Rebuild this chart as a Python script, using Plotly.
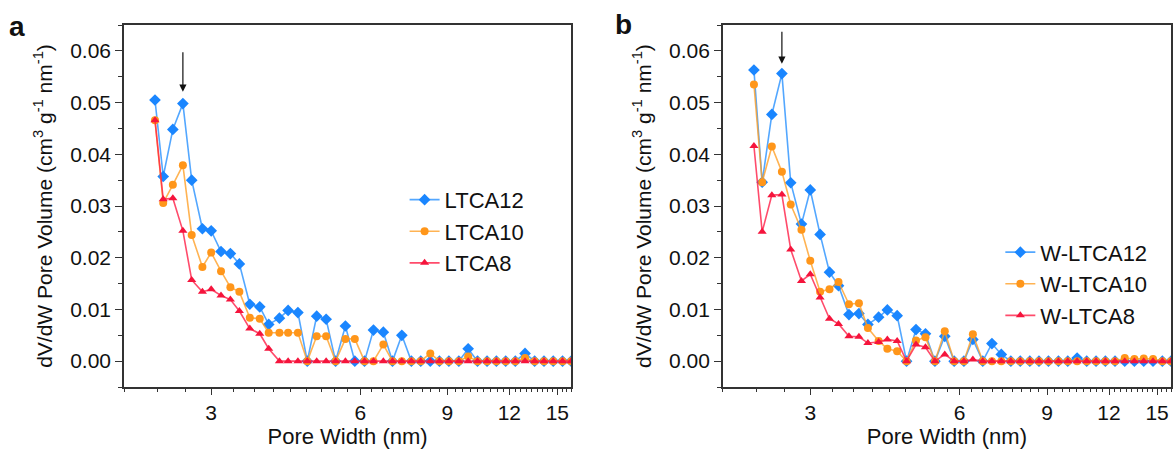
import math
import plotly.graph_objects as go

# Pore widths (nm), shared by all series
pore_width = [2.31, 2.40, 2.51, 2.63, 2.74, 2.88, 3.00, 3.14, 3.28, 3.42,
              3.59, 3.76, 3.92, 4.12, 4.29, 4.49, 4.69, 4.90, 5.12, 5.35,
              5.60, 5.85, 6.12, 6.38, 6.68, 6.97, 7.28, 7.61, 7.95, 8.31,
              8.67, 9.06, 9.49, 9.91, 10.35, 10.82, 11.30, 11.80, 12.34, 12.91,
              13.50, 14.10, 14.72, 15.37, 16.00]

# Panel a
ltca12 = [0.0505, 0.0357, 0.0448, 0.0498, 0.0350, 0.0256, 0.0252, 0.0212, 0.0208, 0.0188,
          0.0110, 0.0105, 0.0071, 0.0083, 0.0098, 0.0094, 0.0, 0.0087, 0.0081, 0.0,
          0.0068, 0.0, 0.0, 0.0060, 0.0056, 0.0, 0.0050, 0.0, 0.0, 0.0,
          0.0, 0.0, 0.0, 0.0024, 0.0, 0.0, 0.0, 0.0, 0.0, 0.0015,
          0.0, 0.0, 0.0, 0.0, 0.0]
ltca10 = [0.0466, 0.0306, 0.0341, 0.0379, 0.0244, 0.0182, 0.0210, 0.0174, 0.0143, 0.0134,
          0.0084, 0.0082, 0.0055, 0.0055, 0.0055, 0.0055, 0.0, 0.0048, 0.0048, 0.0,
          0.0043, 0.0043, 0.0, 0.0, 0.0032, 0.0, 0.0, 0.0, 0.0, 0.0015,
          0.0, 0.0, 0.0, 0.0009, 0.0, 0.0, 0.0, 0.0, 0.0, 0.0006,
          0.0, 0.0, 0.0, 0.0, 0.0]
ltca8 = [0.0466, 0.0313, 0.0315, 0.0252, 0.0157, 0.0134, 0.0139, 0.0127, 0.0119, 0.0097,
         0.0063, 0.0053, 0.0024, 0.0, 0.0, 0.0, 0.0, 0.0, 0.0, 0.0,
         0.0, 0.0, 0.0, 0.0, 0.0, 0.0, 0.0, 0.0, 0.0, 0.0,
         0.0, 0.0, 0.0, 0.0, 0.0, 0.0, 0.0, 0.0, 0.0, 0.0,
         0.0, 0.0, 0.0, 0.0, 0.0]

# Panel b
w_ltca12 = [0.0563, 0.0346, 0.0477, 0.0556, 0.0345, 0.0265, 0.0331, 0.0245, 0.0172, 0.0146,
            0.0090, 0.0092, 0.0071, 0.0085, 0.0099, 0.0088, 0.0, 0.0061, 0.0053, 0.0,
            0.0048, 0.0, 0.0, 0.0042, 0.0, 0.0034, 0.0013, 0.0, 0.0, 0.0,
            0.0, 0.0, 0.0, 0.0, 0.0006, 0.0, 0.0, 0.0, 0.0, 0.0,
            0.0, 0.0, 0.0, 0.0, 0.0]
w_ltca10 = [0.0535, 0.0346, 0.0415, 0.0366, 0.0303, 0.0254, 0.0194, 0.0134, 0.0139, 0.0153,
            0.0110, 0.0112, 0.0064, 0.0039, 0.0024, 0.0019, 0.0, 0.0040, 0.0046, 0.0,
            0.0058, 0.0, 0.0, 0.0052, 0.0, 0.0, 0.0, 0.0, 0.0, 0.0,
            0.0, 0.0, 0.0, 0.0, 0.0, 0.0, 0.0, 0.0, 0.0, 0.0006,
            0.0004, 0.0005, 0.0004, 0.0, 0.0]
w_ltca8 = [0.0416, 0.0250, 0.0321, 0.0322, 0.0216, 0.0155, 0.0168, 0.0123, 0.0082, 0.0072,
           0.0048, 0.0047, 0.0035, 0.0037, 0.0042, 0.0039, 0.0, 0.0032, 0.0027, 0.0,
           0.0013, 0.0, 0.0, 0.0003, 0.0, 0.0, 0.0, 0.0, 0.0, 0.0,
           0.0, 0.0, 0.0, 0.0, 0.0, 0.0, 0.0, 0.0, 0.0, 0.0,
           0.0, 0.0, 0.0, 0.0, 0.0]

names_a = ["LTCA12", "LTCA10", "LTCA8"]
names_b = ["W-LTCA12", "W-LTCA10", "W-LTCA8"]
x_ticks = [3, 6, 9, 12, 15]
arrow_x = 2.63

FONT = "Arial, Liberation Sans, sans-serif"
styles = [
    dict(line_color="rgba(40,145,255,0.8)", marker_color="#1a86ff", symbol="diamond", size=9),
    dict(line_color="rgba(255,160,40,0.8)", marker_color="#ff961a", symbol="circle", size=8),
    dict(line_color="rgba(255,30,70,0.8)", marker_color="#f5143c", symbol="triangle-up", size=8),
]

fig = go.Figure()
for ys, name, st in zip([ltca12, ltca10, ltca8], names_a, styles):
    fig.add_trace(go.Scatter(x=pore_width, y=ys, name=name, mode="lines+markers",
                             line=dict(color=st["line_color"], width=1.6),
                             marker=dict(color=st["marker_color"], symbol=st["symbol"], size=st["size"]),
                             xaxis="x", yaxis="y", legend="legend"))
for ys, name, st in zip([w_ltca12, w_ltca10, w_ltca8], names_b, styles):
    fig.add_trace(go.Scatter(x=pore_width, y=ys, name=name, mode="lines+markers",
                             line=dict(color=st["line_color"], width=1.6),
                             marker=dict(color=st["marker_color"], symbol=st["symbol"], size=st["size"]),
                             xaxis="x2", yaxis="y2", legend="legend2"))

minor_vals = [round(2 + k / 3, 4) for k in range(0, 43)
              if abs((2 + k / 3) % 3) > 1e-6 and abs((2 + k / 3) % 3 - 3) > 1e-6]
axis_color = "#333333"
xcommon = dict(type="log", range=[math.log10(2), math.log10(16)],
               tickmode="array", tickvals=x_ticks, ticktext=[str(v) for v in x_ticks],
               ticks="outside", ticklen=6, tickwidth=1.3, tickcolor=axis_color,
               minor=dict(tickmode="array", tickvals=minor_vals, ticks="outside", ticklen=3,
                          tickwidth=1.1, tickcolor=axis_color),
               showline=True, linecolor=axis_color, linewidth=1.5, mirror=True,
               showgrid=False, zeroline=False,
               tickfont=dict(family=FONT, size=21, color="#111"),
               title=dict(text="Pore Width (nm)", font=dict(family=FONT, size=22, color="#111"), standoff=0))
ycommon = dict(range=[-0.005, 0.065], tickmode="linear", tick0=0, dtick=0.01, tickformat=".2f",
               ticks="outside", ticklen=7, tickwidth=1.3, tickcolor=axis_color,
               minor=dict(dtick=0.005, ticks="outside", ticklen=4, tickwidth=1.1, tickcolor=axis_color),
               showline=True, linecolor=axis_color, linewidth=1.5, mirror=True,
               showgrid=False, zeroline=False,
               tickfont=dict(family=FONT, size=21, color="#111"),
               title=dict(text="dV/dW Pore Volume (cm<sup>3</sup> g<sup>-1</sup> nm<sup>-1</sup>)",
                          font=dict(family=FONT, size=21, color="#111"), standoff=12))

legend_common = dict(font=dict(family=FONT, size=22, color="#111"), bgcolor="rgba(0,0,0,0)",
                     borderwidth=0, itemwidth=30, tracegroupgap=0, xanchor="left", yanchor="top")

fig.update_layout(
    width=1175, height=449,
    margin=dict(l=124, r=2, t=25, b=62),
    paper_bgcolor="white", plot_bgcolor="white",
    xaxis=dict(domain=[0, 0.4271], anchor="y", **xcommon),
    yaxis=dict(domain=[0, 1], anchor="x", **ycommon),
    xaxis2=dict(domain=[0.572, 1], anchor="y2", **xcommon),
    yaxis2=dict(domain=[0, 1], anchor="x2", **ycommon),
    legend=dict(x=0.268, y=0.575, **legend_common),
    legend2=dict(x=0.837, y=0.43, **legend_common),
    showlegend=True,
)

fig.add_annotation(x=math.log10(arrow_x), y=0.0521, ax=math.log10(arrow_x), ay=0.0600,
                   xref="x", yref="y", axref="x", ayref="y", text="", showarrow=True,
                   arrowhead=2, arrowsize=1.2, arrowwidth=1.2, arrowcolor="#111")
fig.add_annotation(x=math.log10(arrow_x), y=0.0575, ax=math.log10(arrow_x), ay=0.0640,
                   xref="x2", yref="y2", axref="x2", ayref="y2", text="", showarrow=True,
                   arrowhead=2, arrowsize=1.2, arrowwidth=1.2, arrowcolor="#111")

# panel labels, positioned from pixel coordinates converted to paper fractions
for label, px, py in [("a", 17, 26), ("b", 624, 24)]:
    fig.add_annotation(x=(px - 124) / 1049, y=1 - (py - 25) / 362, xref="paper", yref="paper",
                       xanchor="center", yanchor="middle", text="<b>%s</b>" % label,
                       showarrow=False, font=dict(family=FONT, size=28, color="#111"))

fig.write_html("out.html")
